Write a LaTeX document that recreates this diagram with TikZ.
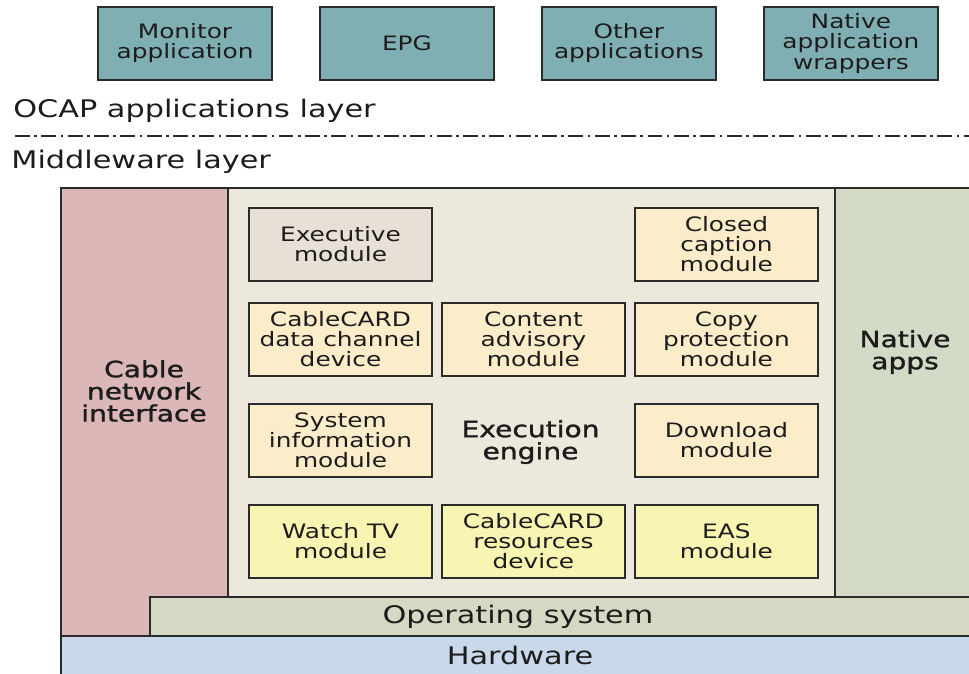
\documentclass[tikz,border=0pt]{standalone}
\usepackage{fontspec}
\setmainfont{DejaVu Sans}[FakeStretch=1.25]
\newfontfamily\heavyfam{DejaVu Sans}[FakeStretch=1.25, FakeBold=1.3]
\usetikzlibrary{positioning}

\definecolor{edge}{HTML}{2B2B2B}
\definecolor{ink}{HTML}{1C1C1C}
\definecolor{appcol}{HTML}{7FAFB3}
\definecolor{cnicol}{HTML}{DBB7B8}
\definecolor{enginecol}{HTML}{ECE9DC}
\definecolor{execcol}{HTML}{E8E0D6}
\definecolor{peach}{HTML}{FBEDCA}
\definecolor{tvcol}{HTML}{F8F4B2}
\definecolor{nativecol}{HTML}{D3DBC6}
\definecolor{oscol}{HTML}{D5D9C3}
\definecolor{hwcol}{HTML}{C9D9E9}

\newcommand\modfont{\fontsize{11.3}{11.4}\selectfont}
\newcommand\layerfont{\fontsize{13.8}{14}\selectfont}
\newcommand\heavyfont{\heavyfam\fontsize{12.8}{12.6}\selectfont}

\begin{document}
\begin{tikzpicture}[
        x=0.02cm, y=-0.02cm,
        node distance=0.44cm and 0.2cm,
        every node/.style={text=ink},
        appbox/.style={draw=edge, line width=1pt, fill=appcol, minimum width=3.48cm, minimum height=1.46cm, inner sep=0pt, outer sep=0pt, align=center, font=\modfont},
        modbox/.style={draw=edge, line width=1pt, fill=peach, minimum width=3.66cm, minimum height=1.46cm, inner sep=0pt, outer sep=0pt, align=center, font=\modfont},
        layer/.style={draw=edge, line width=0.9pt, inner sep=0pt},
        sepline/.style={line width=1.6pt, edge, dash pattern=on 8.5pt off 2.5pt on 1.5pt off 2.5pt}
    ]
        \clip (0,0) rectangle (969,673);

        % applications on top
        \node[appbox] (monitor) at (185,43.5) {Monitor\\application};
        \node[appbox, right=0.96cm of monitor] (epg) {EPG};
        \node[appbox, right=0.96cm of epg] (otherapps) {Other\\applications};
        \node[appbox, right=0.96cm of otherapps] (wrappers) {Native\\application\\wrappers};

        \node[anchor=base west, font=\layerfont, inner sep=0pt] (ocaplbl) at (13,117) {OCAP applications layer};
        \coordinate (sepL) at (15,136);
        \coordinate (sepR) at (969,136);
        \draw[sepline] (sepL) -- (sepR);
        \node[anchor=base west, font=\layerfont, inner sep=0pt] (mwlbl) at (11,168) {Middleware layer};

        % layers
        \node[layer, fill=cnicol, minimum width=3.34cm, minimum height=8.96cm] (cni) at (144.5,412) {};
        \node[layer, fill=enginecol, minimum width=12.14cm, minimum height=8.18cm] (engine) at (531.5,392.5) {};
        \node[layer, fill=nativecol, minimum width=3.3cm, minimum height=8.18cm] (native) at (917.5,392.5) {};
        \node[layer, fill=oscol, minimum width=17cm, minimum height=0.78cm] (os) at (575,616.5) {};
        \node[layer, fill=hwcol, minimum width=18.78cm, minimum height=1.28cm] (hw) at (530.5,668) {};

        \node[font=\heavyfont, align=center] (cnilbl) at (144,391) {Cable\\network\\interface};
        \node[font=\heavyfont, align=center] (nativelbl) at (905,352) {Native\\apps};
        \node[anchor=base, font=\layerfont, inner sep=0pt] (oslbl) at (518,623) {Operating system};
        \node[anchor=base, font=\layerfont, inner sep=0pt] (hwlbl) at (520,664) {Hardware};

        % modules of the execution engine
        \node[modbox, fill=execcol] (execmod) at (340.5,244.5) {Executive\\module};
        \node[modbox, below=of execmod] (ccdata) {CableCARD\\data channel\\device};
        \node[modbox, right=of ccdata] (advisory) {Content\\advisory\\module};
        \node[modbox, right=of advisory] (copyprot) {Copy\\protection\\module};
        \node[modbox, above=of copyprot] (closedcap) {Closed\\caption\\module};
        \node[modbox, below=0.56cm of ccdata] (sysinfo) {System\\information\\module};
        \node[modbox, below=0.56cm of copyprot] (download) {Download\\module};
        \node[modbox, fill=tvcol, below=0.56cm of sysinfo] (watchtv) {Watch TV\\module};
        \node[modbox, fill=tvcol, right=of watchtv] (ccres) {CableCARD\\resources\\device};
        \node[modbox, fill=tvcol, right=of ccres] (eas) {EAS\\module};
        \node[font=\heavyfont, align=center] (enginelbl) at (530.5,442) {Execution\\engine};
    \end{tikzpicture}
\end{document}
